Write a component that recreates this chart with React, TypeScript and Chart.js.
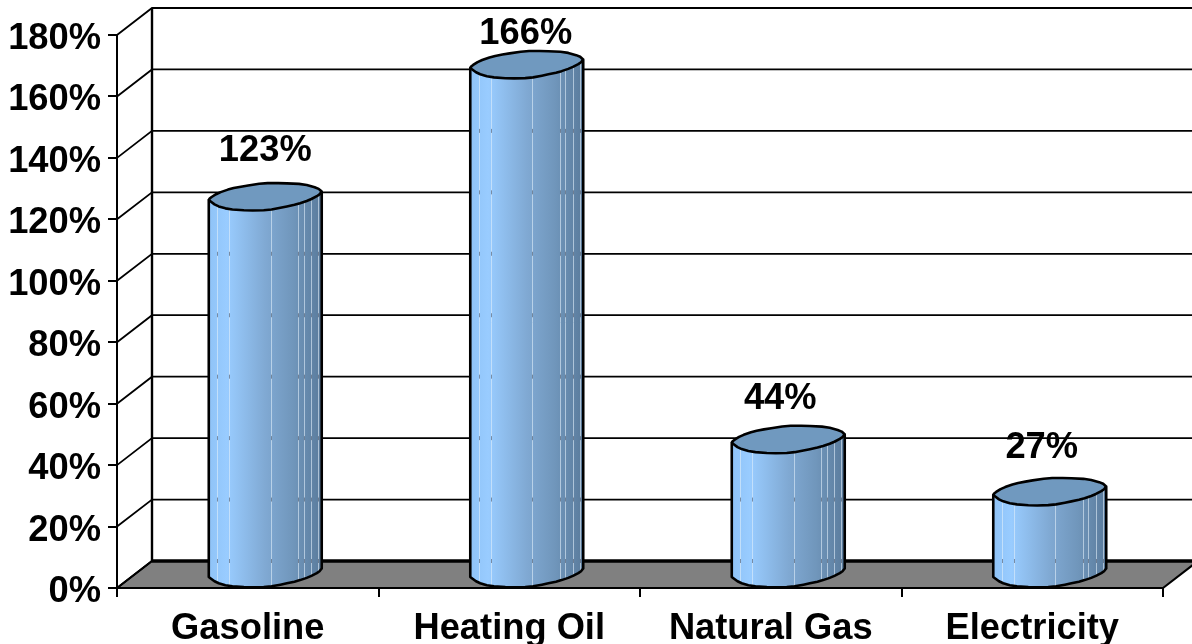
import React, { useEffect, useRef } from "react";
import { Chart, registerables } from "chart.js";

Chart.register(...registerables);

const categories = ["Gasoline", "Heating Oil", "Natural Gas", "Electricity"];
const priceIncrease = [123, 166, 44, 27];
const yTicks = [0, 20, 40, 60, 80, 100, 120, 140, 160, 180];

// Small hand placement of each value label relative to its cylinder.
const labelRaise = [59, 44, 54, 57];
const labelShift = [0, -1, -8, -8];

const FONT_FAMILY = "'Liberation Sans', Arial, sans-serif";
const FONT_SIZE = 36.3;
const DEPTH_X = 35;
const DEPTH_Y = 27;
const RIM_DROP = 13;
const SEAMS = [0.077, 0.18, 0.55, 0.79, 0.84, 0.905, 0.97];

type Pt = [number, number];

// Coarse rim polygon of a cylinder: x as a fraction of the radius, y in pixels
// from the rim's centre. The front half runs left to right, then the back half.
const RIM_FRONT: Pt[] = [
  [-1, 3], [-0.87, 8.5], [-0.66, 12], [-0.3, 13.5], [0.05, 13], [0.33, 10], [0.57, 7], [0.78, 3], [0.95, -2], [1, -5.5],
];
const RIM_BACK: Pt[] = [
  [0.93, -9], [0.68, -13], [0.3, -14], [-0.03, -14], [-0.38, -11], [-0.61, -8.5], [-0.84, -4], [-0.98, 1],
];

function placeRim(rim: Pt[], cx: number, cy: number, rx: number): Pt[] {
  return rim.map(([u, v]) => [cx + u * rx, cy + v] as Pt);
}

// One corner-cutting pass that softens the polygon without losing its facets.
function soften(pts: Pt[], closed: boolean): Pt[] {
  const out: Pt[] = [];
  const n = pts.length;
  const segs = closed ? n : n - 1;
  if (!closed) out.push(pts[0]);
  for (let i = 0; i < segs; i++) {
    const a = pts[i];
    const b = pts[(i + 1) % n];
    out.push([a[0] + (b[0] - a[0]) * 0.22, a[1] + (b[1] - a[1]) * 0.22]);
    out.push([a[0] + (b[0] - a[0]) * 0.78, a[1] + (b[1] - a[1]) * 0.78]);
  }
  if (!closed) out.push(pts[n - 1]);
  return out;
}

function trace(ctx: CanvasRenderingContext2D, pts: Pt[], move = true) {
  pts.forEach(([x, y], i) => {
    if (i === 0 && move) ctx.moveTo(x, y);
    else ctx.lineTo(x, y);
  });
}

const room3d = {
  id: "room3d",
  beforeDatasetsDraw(chart: any) {
    const { ctx, scales } = chart;
    const yS = scales.y;
    const left = scales.x.left;
    const right = scales.x.right;
    const base = yS.getPixelForValue(0);
    const top = yS.getPixelForValue(180);
    ctx.save();

    // floor
    ctx.fillStyle = "#808080";
    ctx.beginPath();
    ctx.moveTo(left, base);
    ctx.lineTo(left + DEPTH_X, base - DEPTH_Y);
    ctx.lineTo(right + DEPTH_X, base - DEPTH_Y);
    ctx.lineTo(right, base);
    ctx.closePath();
    ctx.fill();

    // wall grid lines running along the side wall and then the back wall
    ctx.strokeStyle = "#000";
    ctx.lineWidth = 1.8;
    for (const v of yTicks) {
      const y = yS.getPixelForValue(v);
      ctx.beginPath();
      ctx.moveTo(left, y);
      ctx.lineTo(left + DEPTH_X, y - DEPTH_Y);
      ctx.lineTo(right + DEPTH_X, y - DEPTH_Y);
      ctx.stroke();
    }
    ctx.lineWidth = 2.4;
    ctx.beginPath();
    ctx.moveTo(left + DEPTH_X, top - DEPTH_Y);
    ctx.lineTo(left + DEPTH_X, base - DEPTH_Y);
    ctx.stroke();
    ctx.lineWidth = 3.4;
    ctx.beginPath();
    ctx.moveTo(left + DEPTH_X, base - DEPTH_Y);
    ctx.lineTo(right + DEPTH_X, base - DEPTH_Y);
    ctx.stroke();
    ctx.lineWidth = 2;
    ctx.beginPath();
    ctx.moveTo(left, base);
    ctx.lineTo(right, base);
    ctx.lineTo(right + DEPTH_X, base - DEPTH_Y);
    ctx.moveTo(left, base);
    ctx.lineTo(left + DEPTH_X, base - DEPTH_Y);
    ctx.stroke();
    ctx.restore();
  },
  afterDatasetsDraw(chart: any) {
    const { ctx, scales } = chart;
    const yS = scales.y;
    const bars = chart.getDatasetMeta(0).data;
    bars.forEach((bar: any, i: number) => {
      const rx = bar.width / 2;
      const cx = bar.x + DEPTH_X / 2;
      const cyTop = bar.y - RIM_DROP;
      const cyBottom = bar.base - RIM_DROP;
      const x0 = cx - rx;
      const w = rx * 2;
      const front = soften(placeRim(RIM_FRONT, cx, cyBottom, rx), false);
      const topStart = placeRim(RIM_FRONT, cx, cyTop, rx);
      const ring = soften([...topStart, ...placeRim(RIM_BACK, cx, cyTop, rx)], true);

      const body = () => {
        ctx.beginPath();
        ctx.moveTo(topStart[0][0], topStart[0][1]);
        trace(ctx, front, false);
        ctx.lineTo(topStart[topStart.length - 1][0], topStart[topStart.length - 1][1]);
        ctx.closePath();
      };

      ctx.save();
      const grad = ctx.createLinearGradient(x0, 0, x0 + w, 0);
      grad.addColorStop(0, "#8fc3f7");
      grad.addColorStop(0.16, "#99ccff");
      grad.addColorStop(0.5, "#80a9d3");
      grad.addColorStop(0.75, "#7096bb");
      grad.addColorStop(1, "#5a7b9c");
      body();
      ctx.fillStyle = grad;
      ctx.fill();

      // facet seams, with the grid showing faintly through them
      ctx.save();
      body();
      ctx.clip();
      for (const s of SEAMS) {
        const sx = Math.round(x0 + w * s) + 0.5;
        ctx.strokeStyle = "rgba(225,238,250,0.6)";
        ctx.lineWidth = 1;
        ctx.beginPath();
        ctx.moveTo(sx, bar.y - 2 * RIM_DROP);
        ctx.lineTo(sx, bar.base);
        ctx.stroke();
        ctx.strokeStyle = "rgba(30,40,60,0.45)";
        for (const v of yTicks) {
          const gy = yS.getPixelForValue(v) - DEPTH_Y;
          if (gy > bar.y + 4) {
            ctx.beginPath();
            ctx.moveTo(sx, gy - 2);
            ctx.lineTo(sx, gy + 2);
            ctx.stroke();
          }
        }
      }
      ctx.restore();

      ctx.lineJoin = "round";
      ctx.strokeStyle = "#000";
      ctx.lineWidth = 2.6;
      body();
      ctx.stroke();

      ctx.beginPath();
      trace(ctx, ring);
      ctx.closePath();
      ctx.fillStyle = "#7099bf";
      ctx.fill();
      ctx.stroke();

      // value label
      ctx.fillStyle = "#000";
      ctx.font = `bold ${FONT_SIZE}px ${FONT_FAMILY}`;
      ctx.textAlign = "center";
      ctx.textBaseline = "middle";
      ctx.fillText(`${priceIncrease[i]}%`, cx + labelShift[i], bar.y - labelRaise[i]);
      ctx.restore();
    });
  },
};

export default function App() {
  const ref = useRef<HTMLCanvasElement>(null);
  useEffect(() => {
    document.body.style.margin = "0";
    document.body.style.background = "#fff";
    const chart = new Chart(ref.current!, {
      type: "bar",
      data: {
        labels: categories,
        datasets: [
          {
            data: priceIncrease,
            backgroundColor: "rgba(0,0,0,0)",
            borderWidth: 0,
            categoryPercentage: 1,
            barPercentage: 0.432,
          },
        ],
      },
      options: {
        responsive: false,
        animation: false,
        layout: { padding: { top: 35, right: 29, left: 0, bottom: 0 } },
        plugins: { legend: { display: false }, tooltip: { enabled: false } },
        scales: {
          x: {
            afterFit: (s: any) => {
              s.height = 56;
            },
            border: { color: "#000", width: 2 },
            grid: { drawOnChartArea: false, color: "#000", lineWidth: 2, tickLength: 9 },
            ticks: {
              color: "#000",
              maxRotation: 0,
              padding: 10,
              font: { family: FONT_FAMILY, size: FONT_SIZE, weight: "bold" },
            },
          },
          y: {
            min: 0,
            max: 180,
            afterFit: (s: any) => {
              s.width = 117;
            },
            afterBuildTicks: (s: any) => {
              s.ticks = yTicks.map((value) => ({ value }));
            },
            border: { color: "#000", width: 2 },
            grid: { drawOnChartArea: false, color: "#000", lineWidth: 2, tickLength: 9 },
            ticks: {
              color: "#000",
              padding: 7,
              labelOffset: 4,
              callback: (v: any) => `${v}%`,
              font: { family: FONT_FAMILY, size: FONT_SIZE, weight: "bold" },
            },
          },
        },
      },
      plugins: [room3d],
    } as any);
    return () => chart.destroy();
  }, []);
  return (
    <div style={{ width: 1192, height: 644, overflow: "hidden" }}>
      <canvas ref={ref} width={1192} height={644} style={{ display: "block" }} />
    </div>
  );
}
